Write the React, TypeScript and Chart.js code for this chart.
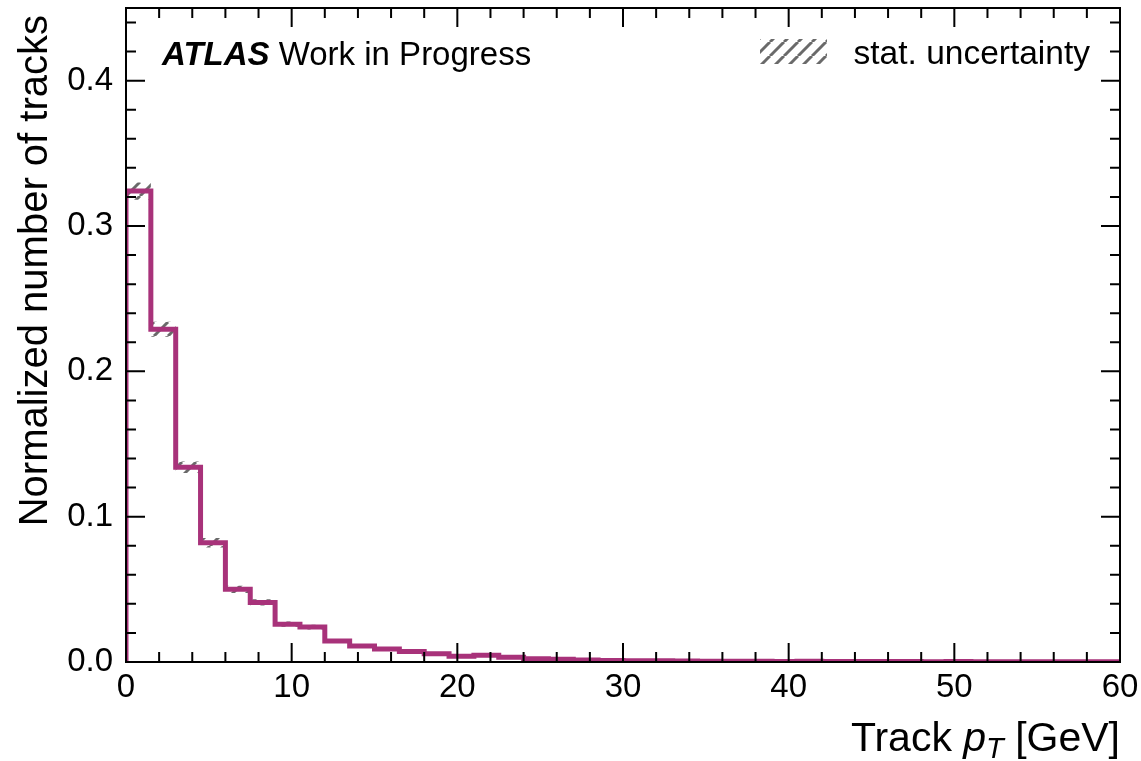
import React, { useEffect, useRef } from 'react';
import { Chart, registerables } from 'chart.js';

Chart.register(...registerables);

// ---- data ----
const binStart = 0;
const binWidth = 1.5; // GeV
const normalizedTracks = [
  0.324, 0.229, 0.134, 0.082, 0.050, 0.041, 0.026, 0.024, 0.0145, 0.011,
  0.009, 0.0072, 0.0056, 0.0040, 0.0046, 0.0032, 0.0022, 0.0019, 0.0013, 0.0011,
  0.0009, 0.0008, 0.0007, 0.0006, 0.0006, 0.0005, 0.0004, 0.0006, 0.0003, 0.0004,
  0.0003, 0.0003, 0.0002, 0.0003, 0.0002, 0.0002, 0.0001, 0.0002, 0.0002, 0.0002,
];
const statErrors = [
  0.0060, 0.0052, 0.0040, 0.0033, 0.0025, 0.0022, 0.0018, 0.0017, 0.0013, 0.0011,
  0.0010, 0.0009, 0.0008, 0.0007, 0.0007, 0.0006, 0.0005, 0.0005, 0.0004, 0.0004,
  0.0003, 0.0003, 0.0003, 0.0003, 0.0003, 0.0003, 0.0003, 0.0003, 0.0003, 0.0003,
  0.0003, 0.0003, 0.0003, 0.0003, 0.0003, 0.0003, 0.0003, 0.0003, 0.0003, 0.0003,
];
const xRange = [0, 60];
const yRange = [0, 0.45];
const xMajorStep = 10;
const xMinorStep = 2;
const yMajorStep = 0.1;
const yMinorStep = 0.02;

const LINE_COLOR = '#a8327a';
const HATCH_COLOR = '#6a6a6a';
const FONT = '"Liberation Sans", Arial, Helvetica, sans-serif';

function histPoints(vals: number[], withZeroStart: boolean) {
  const pts: { x: number; y: number }[] = [];
  if (withZeroStart) pts.push({ x: binStart, y: 0 });
  vals.forEach((v, i) => pts.push({ x: binStart + i * binWidth, y: v }));
  pts.push({ x: binStart + vals.length * binWidth, y: vals[vals.length - 1] });
  return pts;
}

function makeHatch(): CanvasPattern | string {
  const s = 14;
  const c = document.createElement('canvas');
  c.width = s;
  c.height = s;
  const g = c.getContext('2d');
  if (!g) return HATCH_COLOR;
  g.strokeStyle = HATCH_COLOR;
  g.lineWidth = 3;
  g.lineCap = 'butt';
  for (const k of [-s, 0, s]) {
    g.beginPath();
    g.moveTo(k, s);
    g.lineTo(k + s, 0);
    g.stroke();
  }
  const p = g.createPattern(c, 'repeat');
  return p || HATCH_COLOR;
}

export default function App() {
  const ref = useRef<HTMLCanvasElement | null>(null);

  useEffect(() => {
    if (!ref.current) return;
    const hatch = makeHatch();

    const decorPlugin = {
      id: 'decor',
      afterDraw(chart: any) {
        const { ctx, chartArea } = chart;
        const xs = chart.scales.x;
        const ys = chart.scales.y;
        const { left, right, top, bottom } = chartArea;
        ctx.save();
        ctx.strokeStyle = '#000';
        ctx.lineWidth = 2;
        ctx.strokeRect(left, top, right - left, bottom - top);
        // ticks (inward, all four sides)
        const nx = Math.round((xRange[1] - xRange[0]) / xMinorStep);
        for (let i = 0; i <= nx; i++) {
          const v = xRange[0] + i * xMinorStep;
          const major = Math.abs(v / xMajorStep - Math.round(v / xMajorStep)) < 1e-6;
          const len = major ? 19 : 10;
          const px = xs.getPixelForValue(v);
          ctx.beginPath();
          ctx.moveTo(px, bottom);
          ctx.lineTo(px, bottom - len);
          ctx.moveTo(px, top);
          ctx.lineTo(px, top + len);
          ctx.stroke();
        }
        const ny = Math.floor((yRange[1] - yRange[0]) / yMinorStep + 1e-6);
        for (let i = 0; i <= ny; i++) {
          const v = yRange[0] + i * yMinorStep;
          const major = i % Math.round(yMajorStep / yMinorStep) === 0;
          const len = major ? 19 : 10;
          const py = ys.getPixelForValue(v);
          ctx.beginPath();
          ctx.moveTo(left, py);
          ctx.lineTo(left + len, py);
          ctx.moveTo(right, py);
          ctx.lineTo(right - len, py);
          ctx.stroke();
        }

        ctx.fillStyle = '#000';
        ctx.textBaseline = 'alphabetic';
        // ATLAS label
        ctx.textAlign = 'left';
        ctx.font = `italic bold 33px ${FONT}`;
        const ax = left + 36;
        const ay = top + 57;
        ctx.fillText('ATLAS', ax, ay);
        const aw = ctx.measureText('ATLAS ').width;
        ctx.font = `33px ${FONT}`;
        ctx.fillText('Work in Progress', ax + aw, ay);

        // legend
        ctx.fillStyle = hatch as any;
        ctx.fillRect(right - 360, top + 31, 67, 25);
        ctx.fillStyle = '#000';
        ctx.font = `33.5px ${FONT}`;
        ctx.textAlign = 'right';
        ctx.fillText('stat. uncertainty', right - 30, top + 56);

        // y title
        ctx.save();
        ctx.translate(47, top + 7);
        ctx.rotate(-Math.PI / 2);
        ctx.textAlign = 'right';
        ctx.font = `40px ${FONT}`;
        ctx.fillText('Normalized number of tracks', 0, 0);
        ctx.restore();

        // x title: Track p_T [GeV]
        const fs = 41;
        const parts = [
          { t: 'Track ', f: `${fs}px ${FONT}`, dy: 0 },
          { t: 'p', f: `italic ${fs}px ${FONT}`, dy: 0 },
          { t: 'T', f: `italic ${Math.round(fs * 0.7)}px ${FONT}`, dy: 7 },
          { t: ' [GeV]', f: `${fs}px ${FONT}`, dy: 0 },
        ];
        let total = 0;
        const widths = parts.map((p) => {
          ctx.font = p.f;
          const w = ctx.measureText(p.t).width;
          total += w;
          return w;
        });
        let cx = right - total;
        const by = 751;
        ctx.textAlign = 'left';
        parts.forEach((p, i) => {
          ctx.font = p.f;
          ctx.fillText(p.t, cx, by + p.dy);
          cx += widths[i];
        });
        ctx.restore();
      },
    };

    const upper = normalizedTracks.map((v, i) => v + statErrors[i]);
    const lower = normalizedTracks.map((v, i) => Math.max(0, v - statErrors[i]));

    const chart = new Chart(ref.current, {
      type: 'line',
      data: {
        datasets: [
          {
            label: 'tracks',
            data: histPoints(normalizedTracks, true),
            stepped: 'before',
            borderColor: LINE_COLOR,
            borderWidth: 5,
            pointRadius: 0,
            fill: false,
            order: 0,
          },
          {
            label: 'up',
            data: histPoints(upper, false),
            stepped: 'before',
            borderWidth: 0,
            borderColor: 'rgba(0,0,0,0)',
            pointRadius: 0,
            fill: false,
            order: 1,
          },
          {
            label: 'stat. uncertainty',
            data: histPoints(lower, false),
            stepped: 'before',
            borderWidth: 0,
            borderColor: 'rgba(0,0,0,0)',
            backgroundColor: hatch as any,
            pointRadius: 0,
            fill: '-1',
            order: 2,
          },
        ],
      },
      options: {
        responsive: false,
        animation: false,
        layout: { padding: { left: 0, right: 21, top: 8, bottom: 0 } },
        plugins: {
          legend: { display: false },
          tooltip: { enabled: false },
        },
        scales: {
          x: {
            type: 'linear',
            min: xRange[0],
            max: xRange[1],
            grid: { display: false, drawTicks: false },
            border: { display: false },
            ticks: {
              stepSize: xMajorStep,
              padding: 6,
              color: '#000',
              font: { family: FONT, size: 33 },
              maxRotation: 0,
              callback: (v: any) => String(v),
            },
            afterFit: (s: any) => {
              s.height = 99;
              s.paddingLeft = 0;
              s.paddingRight = 0;
            },
          },
          y: {
            type: 'linear',
            min: yRange[0],
            max: yRange[1],
            grid: { display: false, drawTicks: false },
            border: { display: false },
            ticks: {
              stepSize: yMajorStep,
              padding: 13,
              color: '#000',
              font: { family: FONT, size: 33 },
              callback: (v: any) => Number(v).toFixed(1),
            },
            afterBuildTicks: (s: any) => {
              s.ticks = s.ticks.filter(
                (t: any) => Math.abs(t.value / yMajorStep - Math.round(t.value / yMajorStep)) < 1e-6
              );
            },
            afterFit: (s: any) => {
              s.width = 126;
              s.paddingTop = 0;
              s.paddingBottom = 0;
            },
          },
        },
      },
      plugins: [decorPlugin],
    });

    return () => chart.destroy();
  }, []);

  return (
    <div style={{ position: 'fixed', left: 0, top: 0, width: 1141, height: 761, background: '#fff' }}>
      <canvas ref={ref} width={1141} height={761} style={{ display: 'block' }} />
    </div>
  );
}
